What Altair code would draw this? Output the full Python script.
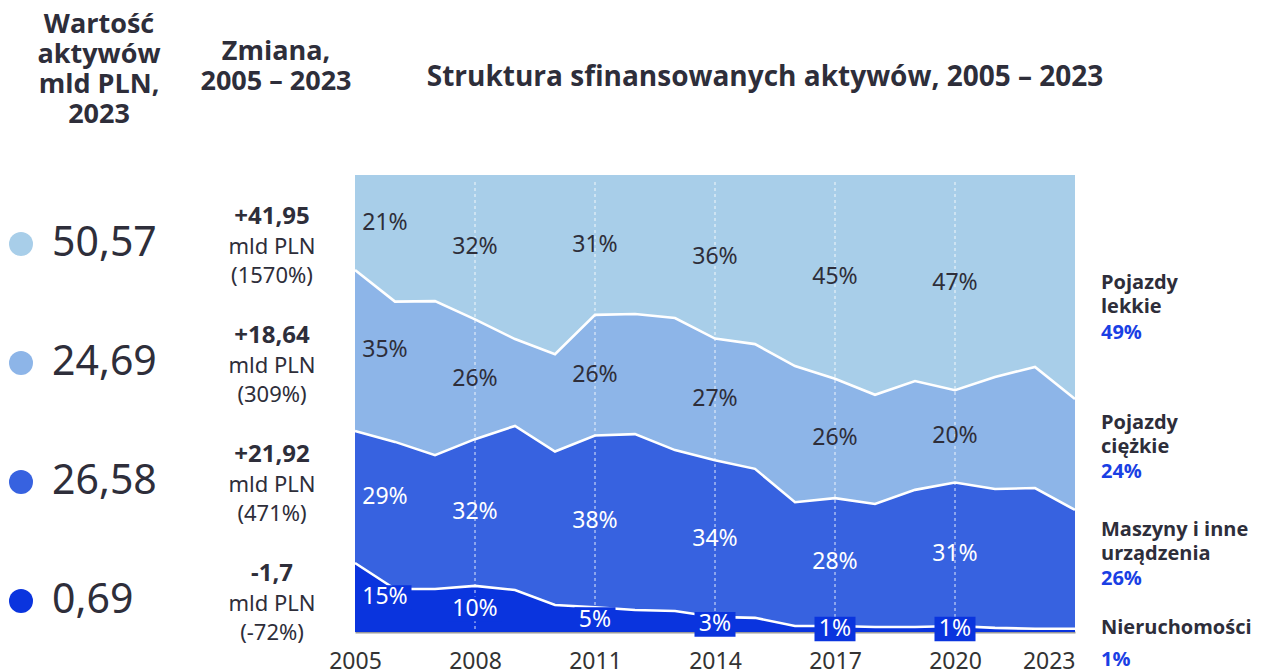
import altair as alt
import pandas as pd

# ---------------- data ----------------
years = list(range(2005, 2024))
series = ["Nieruchomości", "Maszyny i inne urządzenia", "Pojazdy ciężkie", "Pojazdy lekkie"]

nieruchomosci = [15.1, 9.4, 9.4, 10.1, 9.2, 5.9, 5.4, 4.8, 4.6, 3.3, 3.1, 1.3, 1.3, 1.1, 1.1, 1.3, 0.9, 0.7, 0.7]
maszyny = [28.9, 32.2, 29.3, 32.1, 35.9, 33.6, 37.6, 38.5, 35.2, 34.3, 32.6, 27.1, 28.0, 26.9, 30.0, 31.4, 30.4, 30.8, 26.0]
ciezkie = [35.2, 30.7, 33.7, 26.2, 19.0, 21.3, 26.4, 26.3, 28.9, 26.6, 27.3, 29.8, 26.1, 23.9, 23.8, 20.2, 24.5, 26.5, 24.3]
lekkie = [20.8, 27.7, 27.6, 31.6, 35.9, 39.2, 30.6, 30.4, 31.3, 35.8, 37.0, 41.8, 44.6, 48.1, 45.1, 47.1, 44.2, 42.0, 49.0]

label_years = [2005, 2008, 2011, 2014, 2017, 2020]
tick_years = [2005, 2008, 2011, 2014, 2017, 2020, 2023]
grid_years = [2008, 2011, 2014, 2017, 2020]

# left columns (top -> bottom: lekkie, ciężkie, maszyny, nieruchomości)
left_series = ["Pojazdy lekkie", "Pojazdy ciężkie", "Maszyny i inne urządzenia", "Nieruchomości"]
value_2023 = [50.57, 24.69, 26.58, 0.69]
change_abs = [41.95, 18.64, 21.92, -1.7]
change_pct = [1570, 309, 471, -72]

# right labels
right_names = [["Pojazdy", "lekkie"], ["Pojazdy", "ciężkie"], ["Maszyny i inne", "urządzenia"], ["Nieruchomości"]]
right_pct = ["49%", "24%", "26%", "1%"]

# ---------------- styles ----------------
colors = ["#0a34de", "#3762e0", "#8db5e8", "#a8cee9"]
DARK = "#2e2e3a"
BLUE_TXT = "#1a3fe4"
NUM_FONT = "Noto Sans"
HEAD_FONT = "Open Sans"

rows = []
for i, yr in enumerate(years):
    for k, arr in enumerate([nieruchomosci, maszyny, ciezkie, lekkie]):
        rows.append({"year": yr, "series": series[k], "ord": k, "share": arr[i]})
df = pd.DataFrame(rows)

color_scale = alt.Scale(domain=series, range=colors)
xscale = alt.Scale(domain=[2005, 2023], nice=False, zero=False)
yscale = alt.Scale(domain=[0, 100], nice=False, zero=False)

base = alt.Chart(df).transform_stack(
    stack="share", groupby=["year"], as_=["y0", "y1"],
    sort=[alt.SortField("ord", order="ascending")]
)

areas = base.mark_area(opacity=1).encode(
    x=alt.X("year:Q", scale=xscale,
            axis=alt.Axis(values=tick_years, format="d", title=None, grid=False, ticks=False,
                          labelFontSize=23, labelColor="#333333", labelFont=NUM_FONT,
                          domainColor="#9a9a9a", domainWidth=2, labelPadding=18,
                          labelFlush=False, labelOverlap=False,
                          labelAlign={"condition": {"test": "datum.value == 2023", "value": "right"},
                                      "value": "center"})),
    y=alt.Y("y0:Q", scale=yscale, axis=None),
    y2="y1:Q",
    color=alt.Color("series:N", scale=color_scale, legend=None),
    order=alt.Order("ord:Q"),
)

grid = alt.Chart(pd.DataFrame({"year": grid_years})).mark_rule(
    color="white", strokeDash=[3, 3], strokeWidth=1, opacity=0.85
).encode(x="year:Q", y=alt.value(7), y2=alt.value(457))

lines = base.transform_filter("datum.ord < 3").mark_line(color="white", strokeWidth=2.6).encode(
    x="year:Q",
    y=alt.Y("y1:Q", scale=yscale, axis=None),
    detail="series:N",
)

lab = base.transform_filter(
    alt.FieldOneOfPredicate(field="year", oneOf=label_years)
).transform_calculate(
    mid="(datum.y0 + datum.y1) / 2",
    xpos="datum.year == 2005 ? 2005.75 : datum.year",
    txt="round(datum.share) + '%'",
)

boxes = lab.transform_filter("datum.ord == 0").transform_calculate(
    hw="(length(datum.txt) * 12 + 17) / 2 / 40",
).transform_calculate(
    bx1="datum.xpos - datum.hw", bx2="datum.xpos + datum.hw",
    by1="datum.mid - 2.7", by2="datum.mid + 2.7",
).mark_rect(color=colors[0]).encode(
    x="bx1:Q", x2="bx2:Q",
    y=alt.Y("by1:Q", scale=yscale, axis=None), y2="by2:Q",
)

texts = lab.mark_text(font=NUM_FONT, fontSize=23, align="center", baseline="middle").encode(
    x="xpos:Q",
    y=alt.Y("mid:Q", scale=yscale, axis=None),
    text="txt:N",
    color=alt.condition("datum.ord <= 1", alt.value("white"), alt.value(DARK)),
)

main = alt.layer(areas, grid, lines, boxes, texts)

# ---------- left columns ----------
def pl(v):
    return str(v).replace(".", ",")

left_df = pd.DataFrame({
    "idx": list(range(4)),
    "series": left_series,
    "val_txt": [f"{v:.2f}".replace(".", ",") for v in value_2023],
    "chg_txt": [("+" if c > 0 else "") + pl(c) for c in change_abs],
    "rest_txt": [f"mld PLN\n({p}%)" for p in change_pct],
})
lscale = alt.Scale(domain=[0, 3], range=[69, 426], nice=False, zero=False)
lbase = alt.Chart(left_df)

circles = lbase.mark_point(filled=True, size=576, opacity=1, shape="circle").encode(
    x=alt.value(-334),
    y=alt.Y("idx:Q", scale=lscale, axis=None),
    color=alt.Color("series:N", scale=color_scale, legend=None),
)
nums = lbase.mark_text(font=NUM_FONT, fontSize=41, align="left", baseline="middle", color=DARK).encode(
    x=alt.value(-303), y=alt.Y("idx:Q", scale=lscale, axis=None), text="val_txt:N"
)
chg = lbase.mark_text(font=NUM_FONT, fontSize=24, fontWeight="bold", align="center",
                      baseline="alphabetic", color=DARK, dy=-20).encode(
    x=alt.value(-83), y=alt.Y("idx:Q", scale=lscale, axis=None), text="chg_txt:N"
)
rest = lbase.mark_text(font=NUM_FONT, fontSize=22, align="center", baseline="alphabetic",
                       color=DARK, dy=10, lineBreak="\n", lineHeight=29).encode(
    x=alt.value(-83), y=alt.Y("idx:Q", scale=lscale, axis=None), text="rest_txt:N"
)
left = alt.layer(circles, nums, chg, rest)

# ---------- headers & right labels ----------
one = alt.Data(values=[{}])

def note(text, x, y, size, weight="bold", color=DARK, align="left", font=HEAD_FONT, lh=None):
    kw = dict(text=text, fontSize=size, fontWeight=weight, color=color, align=align,
              baseline="alphabetic", font=font)
    if lh:
        kw["lineHeight"] = lh
    return alt.Chart(one).mark_text(**kw).encode(x=alt.value(x), y=alt.value(y))

notes = [
    note(["Wartość", "aktywów", "mld PLN,", "2023"], -256, -142, 27, align="center", lh=30),
    note(["Zmiana,", "2005 – 2023"], -79, -115, 27, align="center", lh=30),
    note("Struktura sfinansowanych aktywów, 2005 – 2023", 410, -89, 28, align="center"),
]
name_base = [114, 254, 361, 459]
pct_base = [164, 303, 410, 491]
for nm, pc, yb, yp in zip(right_names, right_pct, name_base, pct_base):
    notes.append(note(nm, 746, yb, 20, lh=24))
    notes.append(note(pc, 746, yp, 20, color=BLUE_TXT))

chart = alt.layer(main, left, *notes).resolve_scale(y="independent").properties(
    width=720, height=457,
    padding={"left": 347, "top": 167, "right": 178, "bottom": 40},
    autosize=alt.AutoSizeParams(type="none"),
    background="white",
).configure_view(stroke=None)

chart.save("out.html", embed_options={"renderer": "svg", "actions": False})
